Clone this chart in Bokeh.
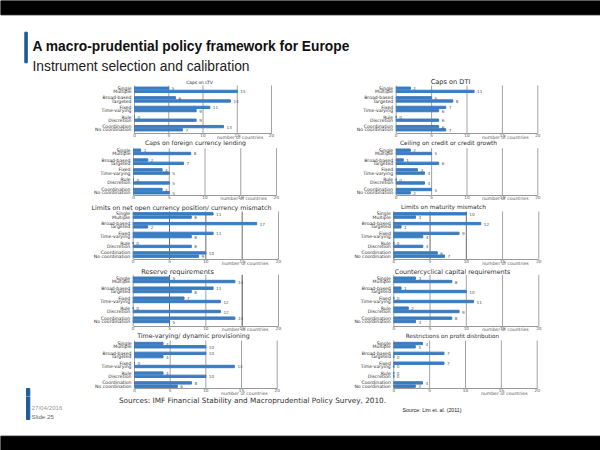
from bokeh.plotting import figure
from bokeh.models import Range1d, ColumnDataSource, FixedTicker
from bokeh.layouts import column, row
from bokeh.embed import file_html
from bokeh.resources import INLINE
from bokeh.core.properties import value

# ---------------- data ----------------
pairs = [("Single", "Multiple"), ("Broad-based", "Targeted"), ("Fixed", "Time-varying"),
         ("Rule", "Discretion"), ("Coordination", "No coordination")]

titles = ["Caps on LTV", "Caps on DTI",
          "Caps on foreign currency lending", "Ceiling on credit or credit growth",
          "Limits on net open currency position/ currency mismatch", "Limits on maturity mismatch",
          "Reserve requirements", "Countercyclical capital requirements",
          "Time-varying/ dynamic provisioning", "Restrictions on profit distribution"]

caps_ltv = [5, 15, 6, 14, 11, 9, 0, 9, 13, 7]
caps_dti = [2, 11, 5, 8, 7, 6, 0, 6, 6, 7]
caps_fx_lending = [1, 8, 2, 7, 4, 5, 0, 5, 4, 5]
credit_ceiling = [2, 5, 1, 6, 3, 4, 0, 4, 5, 2]
nop_limits = [11, 8, 17, 2, 11, 8, 0, 8, 10, 9]
maturity_limits = [10, 3, 12, 1, 9, 4, 0, 4, 6, 7]
reserve_req = [5, 14, 11, 8, 7, 12, 0, 12, 14, 5]
countercyclical_cap = [3, 8, 1, 10, 0, 11, 2, 9, 8, 3]
dynamic_prov = [4, 10, 10, 4, 0, 14, 4, 10, 8, 6]
profit_restrictions = [4, 3, 7, 0, 7, 0, 0, 0, 4, 3]

x_ticks = [0, 5, 10, 15, 20]
x_label = "number of countries"

slide_title = "A macro-prudential policy framework for Europe"
slide_subtitle = "Instrument selection and calibration"
chart_source = "Sources: IMF Financial Stability and Macroprudential Policy Survey, 2010."
slide_source = "Source: Lim et. al. (2011)"
slide_date = "27/04/2016"
slide_no = "Slide 25"

series = [caps_ltv, caps_dti, caps_fx_lending, credit_ceiling, nop_limits,
          maturity_limits, reserve_req, countercyclical_cap, dynamic_prov, profit_restrictions]

# ---------------- layout / style ----------------
BAR = "#3b7cc0"
ACCENT = "#1d5c9a"
TXT = "#2e2e2e"
LIGHT = "#a3a3a3"
DARK = "#6a6a6a"
FONT = "DejaVu Sans"
GROUP_GAP = 1          # extra slot between category pairs

# grid line colours at 0, 5, 10, 15, 20 for each chart (scanned images differ)
grid_styles = [
    [LIGHT] * 5, [LIGHT] * 5,
    [LIGHT] * 5, [LIGHT] * 5,
    [LIGHT, DARK, DARK, DARK, LIGHT], [DARK, DARK, DARK, LIGHT, LIGHT],
    [LIGHT, DARK, LIGHT, "#4d4d4d", LIGHT], [LIGHT] * 5,
    [LIGHT] * 5, [LIGHT] * 5,
]

# per row, page y: canvas top, canvas bottom, first bar centre, last bar centre,
# grid top, axis line, "number of countries" centre
rows_spec = [
    (76, 139, 87.7, 129.3, 85.0, 133.3, 136.7),
    (139, 202, 149.7, 192.3, 147.7, 195.0, 198.3),
    (202, 266, 213.3, 255.7, 211.0, 259.0, 263.0),
    (266, 332, 277.7, 321.0, 274.3, 326.0, 329.3),
    (332, 396, 343.0, 385.7, 340.0, 388.3, 392.7),
]
# per chart, page x of value 0, page x of value 20, title centre x, title y, title font size
chart_spec = [
    (134.0, 271.0, 199, 82.3, 4.4), (395.7, 537.3, 450, 81.7, 6.6),
    (133.0, 276.0, 195, 142.3, 6.1), (395.7, 537.3, 448, 142.3, 5.9),
    (132.7, 278.0, 181, 206.7, 6.3), (393.3, 538.3, 443, 206.7, 5.9),
    (132.7, 278.0, 177, 271.0, 6.6), (393.3, 538.3, 452, 271.0, 6.3),
    (134.0, 276.7, 193, 335.0, 6.3), (393.3, 536.7, 452, 335.0, 5.7),
]
col_bounds = [(70, 300), (300, 600)]


def make_chart(vals, title, spec, rspec, bounds, gcols):
    x0, x20, tcx, ty, tfs = spec
    ctop, cbot, first, last, gtop, gbot, noc_y = rspec
    gl, gr = bounds
    labels, slots = [], []
    for g, (a, b) in enumerate(pairs):
        base = g * (2 + GROUP_GAP)
        labels += [a, b]
        slots += [base, base + 1]
    ppx = (x20 - x0) / 20.0                        # pixels per country
    ppu = (last - first) / (slots[-1] - slots[0])  # pixels per slot

    def sy(py):
        return (py - first) / ppu

    def sx(px):
        return (px - x0) / ppx

    p = figure(width=gr - gl, height=cbot - ctop,
               x_range=Range1d(sx(gl), sx(gr)), y_range=Range1d(sy(cbot), sy(ctop)),
               output_backend="svg", toolbar_location=None, min_border=0)
    p.outline_line_color = None
    p.background_fill_color = "white"
    p.border_fill_color = "white"
    p.grid.visible = False

    # grid lines at the tick values
    p.segment(x0=x_ticks, x1=x_ticks, y0=[sy(gtop)] * len(x_ticks), y1=[sy(gbot)] * len(x_ticks),
              line_color=gcols, line_width=1)

    src = ColumnDataSource(dict(slot=slots, val=vals, txt=[str(v) for v in vals]))
    p.hbar(y="slot", left=0, right="val", height=0.72, source=src, color=BAR)
    p.text(x="val", y="slot", text="txt", x_offset=3, source=src,
           text_font=value(FONT), text_font_size="4.2px",
           text_baseline="middle", text_color="#555555")

    # x axis placed at the bottom of the bar area
    xa = p.xaxis[0]
    xa.fixed_location = sy(gbot)
    xa.bounds = (0, 20)
    xa.ticker = FixedTicker(ticks=x_ticks)
    xa.major_tick_line_color = None
    xa.minor_tick_line_color = None
    xa.major_tick_out = 0
    xa.major_tick_in = 0
    xa.major_label_standoff = -1
    xa.major_label_text_font = FONT
    xa.major_label_text_font_size = "4.2px"
    xa.major_label_text_color = "#555555"
    xa.axis_line_color = "#999999"

    # y axis with the category names
    ya = p.yaxis[0]
    ya.fixed_location = 0
    ya.ticker = FixedTicker(ticks=slots)
    ya.major_label_overrides = {s: lab for s, lab in zip(slots, labels)}
    ya.axis_line_color = None
    ya.major_tick_line_color = None
    ya.minor_tick_line_color = None
    ya.major_tick_out = 0
    ya.major_tick_in = 0
    ya.major_label_standoff = 3
    ya.major_label_text_font = FONT
    ya.major_label_text_font_size = "4.6px"
    ya.major_label_text_color = TXT

    # chart title and x-axis caption
    p.text(x=[sx(tcx)], y=[sy(ty)], text=[title], text_align="center", text_baseline="middle",
           text_font=value(FONT), text_font_size=f"{tfs}px", text_color=TXT)
    p.text(x=[15.4], y=[sy(noc_y)], text=[x_label], text_align="center", text_baseline="middle",
           text_font=value(FONT), text_font_size="4.6px", text_color="#555555")
    return p


def deco_fig(x0, x1, y0, y1):
    p = figure(width=x1 - x0, height=y1 - y0, x_range=Range1d(x0, x1), y_range=Range1d(y1, y0),
               x_axis_type=None, y_axis_type=None, output_backend="svg",
               toolbar_location=None, min_border=0)
    p.outline_line_color = None
    p.background_fill_color = "white"
    p.border_fill_color = "white"
    p.grid.visible = False
    return p


# header (page 0..600 x 0..76)
header = deco_fig(0, 600, 0, 76)
header.quad(left=[0], right=[600], top=[0], bottom=[14.3], color="black")
header.quad(left=[24.3], right=[26.8], top=[31.7], bottom=[62.3], color=ACCENT)
header.text(x=[32], y=[46], text=[slide_title], text_font=value("Liberation Sans"),
            text_font_style="bold", text_font_size="13.8px", text_baseline="alphabetic",
            text_color="#111111")
header.text(x=[32], y=[65.5], text=[slide_subtitle], text_font=value("Liberation Sans"),
            text_font_size="13.8px", text_baseline="alphabetic", text_color="#222222")

# left strip (page 0..70 x 76..396)
strip = deco_fig(0, 70, 76, 396)
strip.quad(left=[26], right=[29.3], top=[388], bottom=[396], color=ACCENT)

# footer (page 0..600 x 396..450)
footer = deco_fig(0, 600, 396, 450)
footer.quad(left=[26], right=[29.3], top=[396], bottom=[419], color=ACCENT)
footer.quad(left=[0], right=[600], top=[435.7], bottom=[450], color="black")
footer.text(x=[252], y=[399.5], text=[chart_source], text_font=value(FONT),
            text_font_size="7.3px", text_align="center", text_baseline="middle",
            text_color="#333333")
footer.text(x=[402], y=[409], text=[slide_source], text_font=value("Liberation Sans"),
            text_font_size="5.3px", text_baseline="middle", text_color="#222222")
footer.text(x=[31], y=[407], text=[slide_date], text_font=value("Liberation Sans"),
            text_font_size="6.2px", text_baseline="middle", text_color="#999999")
footer.text(x=[31], y=[415.7], text=[slide_no], text_font=value("Liberation Sans"),
            text_font_size="6.2px", text_baseline="middle", text_color="#666666")

chart_rows = []
for i, rspec in enumerate(rows_spec):
    figs = []
    for j in range(2):
        k = 2 * i + j
        figs.append(make_chart(series[k], titles[k], chart_spec[k], rspec, col_bounds[j],
                               grid_styles[k]))
    chart_rows.append(row(*figs, spacing=0))

body = row(strip, column(*chart_rows, spacing=0), spacing=0)
page = column(header, body, footer, spacing=0)

open("out.html", "w").write(file_html(page, INLINE))
